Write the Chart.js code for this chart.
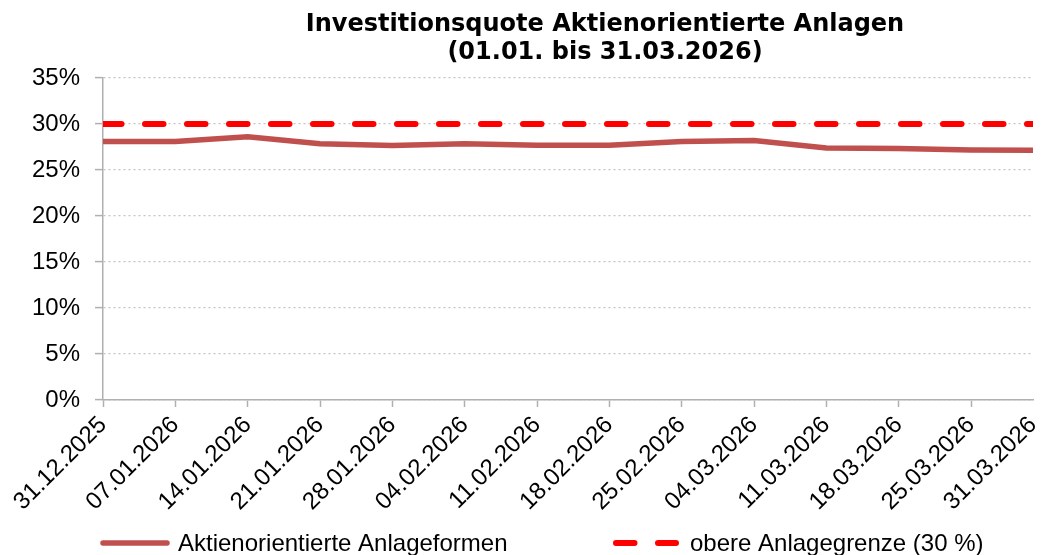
<!DOCTYPE html>
<html lang="de">
<head>
<meta charset="utf-8">
<title>Investitionsquote Aktienorientierte Anlagen</title>
<script src="https://cdn.jsdelivr.net/npm/chart.js@4.4.1/dist/chart.umd.min.js"></script>
<style>
    body { margin: 0; background: #fff; }
    #wrap { width: 1043px; height: 555px; position: relative; }
</style>
</head>
<body>
<div id="wrap"><canvas id="quoteChart"></canvas></div>
<script>
// Stichtage (x-Achse) und Werte in Prozent
const stichtage = ['31.12.2025', '07.01.2026', '14.01.2026', '21.01.2026', '28.01.2026', '04.02.2026', '11.02.2026',
    '18.02.2026', '25.02.2026', '04.03.2026', '11.03.2026', '18.03.2026', '25.03.2026', '31.03.2026'];
const aktienQuote = [28.1, 28.1, 28.6, 27.85, 27.65, 27.85, 27.7, 27.7, 28.1, 28.2, 27.4, 27.35, 27.17, 27.14];
const obereGrenze = [30, 30, 30, 30, 30, 30, 30, 30, 30, 30, 30, 30, 30, 30];
const yTicks = [0, 5, 10, 15, 20, 25, 30, 35];

const titelZeilen = ['Investitionsquote Aktienorientierte Anlagen', '(01.01. bis 31.03.2026)'];
const serienNamen = ['Aktienorientierte Anlageformen', 'obere Anlagegrenze (30 %)'];

// Datum "tt.mm.jjjj" -> Tage seit dem ersten Stichtag (Datumsachse wie in Excel)
function tageSeitStart(datum) {
    const [t, m, j] = datum.split('.').map(Number);
    const [t0, m0, j0] = stichtage[0].split('.').map(Number);
    return Math.round((Date.UTC(j, m - 1, t) - Date.UTC(j0, m0 - 1, t0)) / 86400000);
}
const tage = stichtage.map(tageSeitStart);

const punkte = werte => werte.map((v, i) => ({ x: tage[i], y: v }));

// Titel und Legende selbst zeichnen (Excel-Positionen), Stil kommt aus den Datasets
const excelPlugin = {
    id: 'excelTitelLegende',
    afterDraw(chart) {
        const c = chart.ctx;

        // Titel, zentriert wie im Original
        c.save();
        c.fillStyle = '#000';
        c.textAlign = 'center';
        c.textBaseline = 'middle';
        c.font = "bold 24px 'DejaVu Sans', sans-serif";
        titelZeilen.forEach((zeile, i) => c.fillText(zeile, 605, 25 + i * 28));
        c.restore();

        // Legende
        const y = 543;
        const eintraege = [{ x1: 103, x2: 167, text: 178 }, { x1: 616, x2: 676, text: 690 }];
        eintraege.forEach((e, i) => {
            const ds = chart.data.datasets[i];
            c.save();
            c.strokeStyle = ds.borderColor;
            c.lineWidth = ds.borderWidth;
            c.lineCap = 'round';
            c.setLineDash(ds.borderDash || []);
            c.beginPath();
            c.moveTo(e.x1, y);
            c.lineTo(e.x2, y);
            c.stroke();
            c.setLineDash([]);
            c.fillStyle = '#000';
            c.font = "24px 'Liberation Sans', Arial, sans-serif";
            c.textBaseline = 'middle';
            c.fillText(ds.label, e.text, y + 1);
            c.restore();
        });
    }
};

Chart.defaults.font.family = "'Liberation Sans', Arial, sans-serif";
Chart.defaults.color = '#000';

const ctx = document.getElementById('quoteChart').getContext('2d');

new Chart(ctx, {
    type: 'line',
    data: {
        datasets: [{
            label: serienNamen[0],
            data: punkte(aktienQuote),
            borderColor: '#C0504D',
            backgroundColor: '#C0504D',
            borderWidth: 5.5,
            borderCapStyle: 'round',
            pointRadius: 0,
            tension: 0
        }, {
            label: serienNamen[1],
            data: punkte(obereGrenze),
            borderColor: '#FF0000',
            backgroundColor: '#FF0000',
            borderWidth: 6,
            borderDash: [18.5, 23.5],
            borderCapStyle: 'round',
            pointRadius: 0,
            tension: 0
        }]
    },
    options: {
        responsive: true,
        maintainAspectRatio: false,
        animation: false,
        layout: { padding: { left: 0, right: 10, top: 78, bottom: 30 } },
        scales: {
            x: {
                type: 'linear',
                min: tage[0],
                max: tage[tage.length - 1],
                afterBuildTicks: scale => {
                    scale.ticks = tage.map(v => ({ value: v }));
                },
                afterFit: scale => {
                    scale.height = 125;
                    scale.paddingRight = 0;
                },
                ticks: {
                    autoSkip: false,
                    minRotation: 45,
                    maxRotation: 45,
                    padding: 4,
                    font: { size: 24 },
                    callback: (value, index) => stichtage[index]
                },
                grid: {
                    drawOnChartArea: false,
                    drawTicks: true,
                    tickLength: 7,
                    tickWidth: 1.5,
                    tickColor: c => (c.index === tage.length - 1 ? 'rgba(0,0,0,0)' : '#b0b0b0')
                },
                border: { color: '#b0b0b0', width: 1.5 }
            },
            y: {
                min: 0,
                max: 35,
                afterBuildTicks: scale => {
                    scale.ticks = yTicks.map(v => ({ value: v }));
                },
                afterFit: scale => { scale.width = 103; },
                ticks: {
                    autoSkip: false,
                    padding: 15,
                    font: { size: 24 },
                    callback: v => v + '%'
                },
                grid: {
                    color: '#c4c4c4',
                    lineWidth: 1.2,
                    tickLength: 8,
                    tickColor: '#b0b0b0',
                    tickWidth: 1.5,
                    tickBorderDash: []
                },
                border: { color: '#b0b0b0', width: 1.5, dash: [2, 3] }
            }
        },
        plugins: {
            title: { display: false },
            legend: { display: false },
            tooltip: { enabled: false }
        }
    },
    plugins: [excelPlugin]
});
</script>
</body>
</html>
